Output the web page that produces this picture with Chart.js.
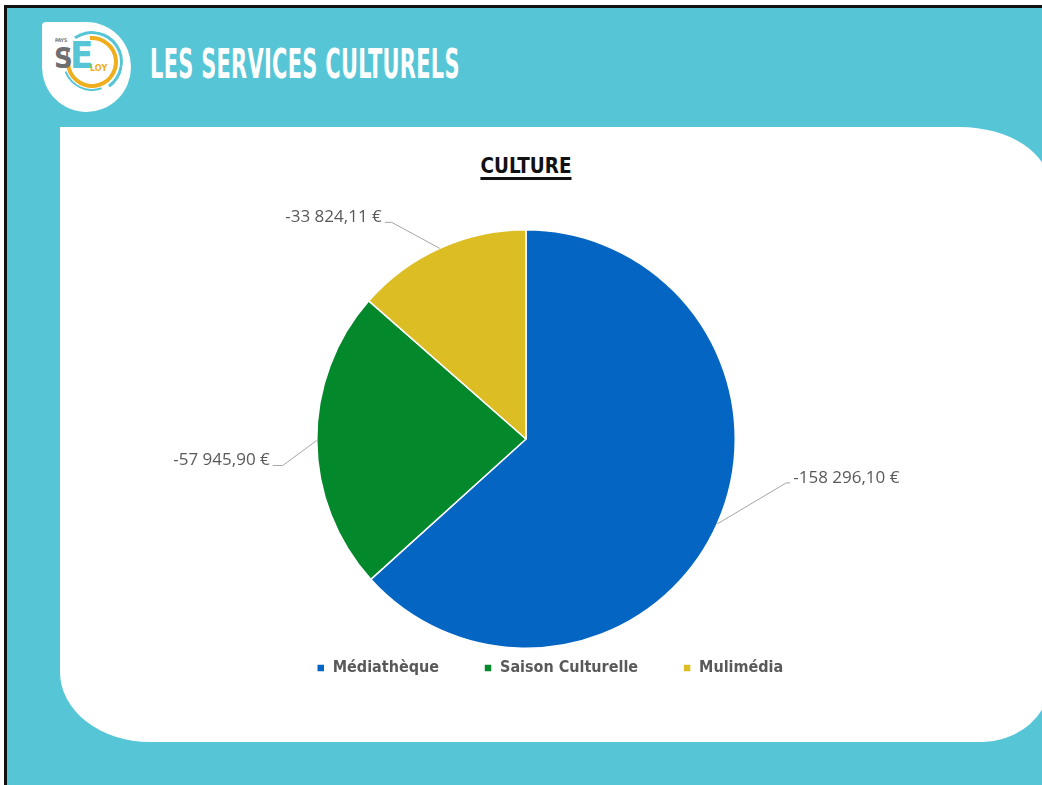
<!DOCTYPE html>
<html lang="fr">
<head>
<meta charset="utf-8">
<title>Les services culturels</title>
<script src="https://cdn.jsdelivr.net/npm/chart.js@4/dist/chart.umd.min.js"></script>
<style>
  html, body { margin: 0; padding: 0; }
  body { width: 1042px; height: 785px; background: #fff; position: relative; overflow: hidden; }
  #frame {
    position: absolute; left: 4px; top: 5px; right: 0; bottom: 0;
    background: #56c6d6; border-left: 3px solid #111; border-top: 3px solid #111;
  }
  #panel {
    position: absolute; left: 60px; top: 127px; width: 990px; height: 615px;
    background: #fff;
    border-radius: 0 90px 70px 90px / 0 60px 60px 70px;
  }
  #logo {
    position: absolute; left: 42px; top: 22px; width: 89px; height: 90px;
    background: #fff; border-radius: 4px 50% 50% 50%;
  }
  #logo .ring {
    position: absolute; left: 24px; top: 14px; width: 52px; height: 52px;
    border-radius: 50%; border: 4px solid #f0ad1e; border-left-color: transparent;
    transform: rotate(40deg); box-sizing: border-box;
  }
  #logo .ring2 {
    position: absolute; left: 19px; top: 9px; width: 62px; height: 62px;
    border-radius: 50%; border: 3px solid #56c6d6; border-left-color: transparent; border-bottom-color: transparent;
    transform: rotate(10deg); box-sizing: border-box;
  }
  #logo .ring3 {
    position: absolute; left: 21px; top: 11px; width: 58px; height: 58px;
    border-radius: 50%; border: 2px solid transparent; border-bottom-color: #56c6d6;
    transform: rotate(25deg); box-sizing: border-box;
  }
  #logo span { position: absolute; font-family: "DejaVu Sans Condensed", sans-serif; font-weight: bold; line-height: 1; }
  #heading {
    position: absolute; left: 150px; top: 40px; color: #fff;
    font-family: "DejaVu Sans Condensed", sans-serif; font-weight: bold; font-size: 41px;
    transform-origin: 0 0; white-space: nowrap; letter-spacing: 0.5px;
  }
  #ctitle {
    position: absolute; left: 0; width: 1052px; top: 153px; text-align: center;
    font-family: "DejaVu Sans Condensed", sans-serif; font-weight: bold; font-size: 22px; color: #111;
  }
  #ctitle span { text-decoration: underline; text-decoration-thickness: 2.5px; text-underline-offset: 4px; display: inline-block; transform: scaleX(0.93); }
  #wrap { position: absolute; left: 60px; top: 190px; width: 932px; height: 540px; }
</style>
</head>
<body>
<div id="frame"></div>
<div id="panel"></div>
<div id="logo">
  <div class="ring2"></div>
  <div class="ring3"></div>
  <div class="ring"></div>
  <span style="left:13px;top:16px;font-size:5px;color:#777;">PAYS</span>
  <span style="left:12px;top:22px;font-size:29px;color:#6d6e70;">S</span>
  <span style="left:22px;top:26px;font-size:10px;color:#6d6e70;">T</span>
  <span style="left:28px;top:14px;font-size:38px;color:#56c6d6;">E</span>
  <span style="left:48px;top:42px;font-size:9px;color:#f0ad1e;">LOY</span>
</div>
<div id="heading">LES SERVICES CULTURELS</div>
<div id="ctitle"><span>CULTURE</span></div>
<div id="wrap"><canvas id="pie"></canvas></div>

<script>
const categories = ['Médiathèque', 'Saison Culturelle', 'Mulimédia'];
const amounts = [-158296.10, -57945.90, -33824.11];
const sliceColors = ['#0565c2', '#03892b', '#dcbd24'];

// heading: squeeze to the condensed look of the original
const heading = document.getElementById('heading');
heading.style.transform = 'scaleX(' + (310 / heading.scrollWidth) + ')';

function formatEuro(v) {
  const neg = v < 0;
  const parts = Math.abs(v).toFixed(2).split('.');
  const intPart = parts[0].replace(/\B(?=(\d{3})+(?!\d))/g, ' ');
  return (neg ? '-' : '') + intPart + ',' + parts[1] + ' €';
}

// outside labels with leader lines, offsets from the slice edge
const leaderLabels = {
  id: 'leaderLabels',
  afterDatasetsDraw(chart, args, opts) {
    const ctx = chart.ctx;
    const arcs = chart.getDatasetMeta(0).data;
    ctx.save();
    ctx.font = opts.font;
    ctx.fillStyle = opts.color;
    ctx.strokeStyle = opts.lineColor;
    ctx.lineWidth = 1;
    arcs.forEach((arc, i) => {
      const p = arc.getProps(['x', 'y', 'startAngle', 'endAngle', 'outerRadius'], true);
      const mid = (p.startAngle + p.endAngle) / 2;
      const sx = p.x + Math.cos(mid) * p.outerRadius;
      const sy = p.y + Math.sin(mid) * p.outerRadius;
      const o = opts.offsets[i];
      const ex = sx + o.dx, ey = sy + o.dy;
      const tx = ex + o.stub;
      ctx.beginPath();
      ctx.moveTo(sx, sy);
      ctx.lineTo(ex, ey);
      ctx.lineTo(tx, ey);
      ctx.stroke();
      const right = o.stub > 0;
      ctx.textAlign = right ? 'left' : 'right';
      ctx.textBaseline = 'alphabetic';
      ctx.fillText(formatEuro(amounts[i]), tx + (right ? 3 : -3), ey);
    });
    ctx.restore();
  }
};

// the legend keeps its wide item spacing but sits closer to the pie
const legendShift = {
  id: 'legendShift',
  afterLayout(chart, args, opts) {
    const lg = chart.legend;
    if (!lg) return;
    lg.top -= opts.up;
    lg.bottom -= opts.up;
    lg.left += opts.right;
    lg.right += opts.right;
  }
};

new Chart(document.getElementById('pie'), {
  type: 'pie',
  data: {
    labels: categories,
    datasets: [{
      data: amounts.map(v => Math.abs(v)),
      backgroundColor: sliceColors,
      borderColor: '#ffffff',
      borderWidth: 1.5
    }]
  },
  options: {
    responsive: true,
    maintainAspectRatio: false,
    animation: false,
    layout: { padding: { top: 39, bottom: 10 } },
    plugins: {
      tooltip: { enabled: false },
      legend: {
        position: 'bottom',
        labels: {
          boxWidth: 8,
          boxHeight: 8,
          padding: 45,
          color: '#595959',
          font: { family: "'DejaVu Sans Condensed', sans-serif", size: 16, weight: 'bold' }
        }
      },
      legendShift: { up: 34, right: 24 },
      leaderLabels: {
        font: "17px 'Open Sans', sans-serif",
        color: '#595959',
        lineColor: '#a6a6a6',
        offsets: [
          { dx: 69, dy: -41, stub: 4 },
          { dx: -34, dy: 25, stub: -10 },
          { dx: -48, dy: -26, stub: -7 }
        ]
      }
    }
  },
  plugins: [leaderLabels, legendShift]
});
</script>
</body>
</html>
